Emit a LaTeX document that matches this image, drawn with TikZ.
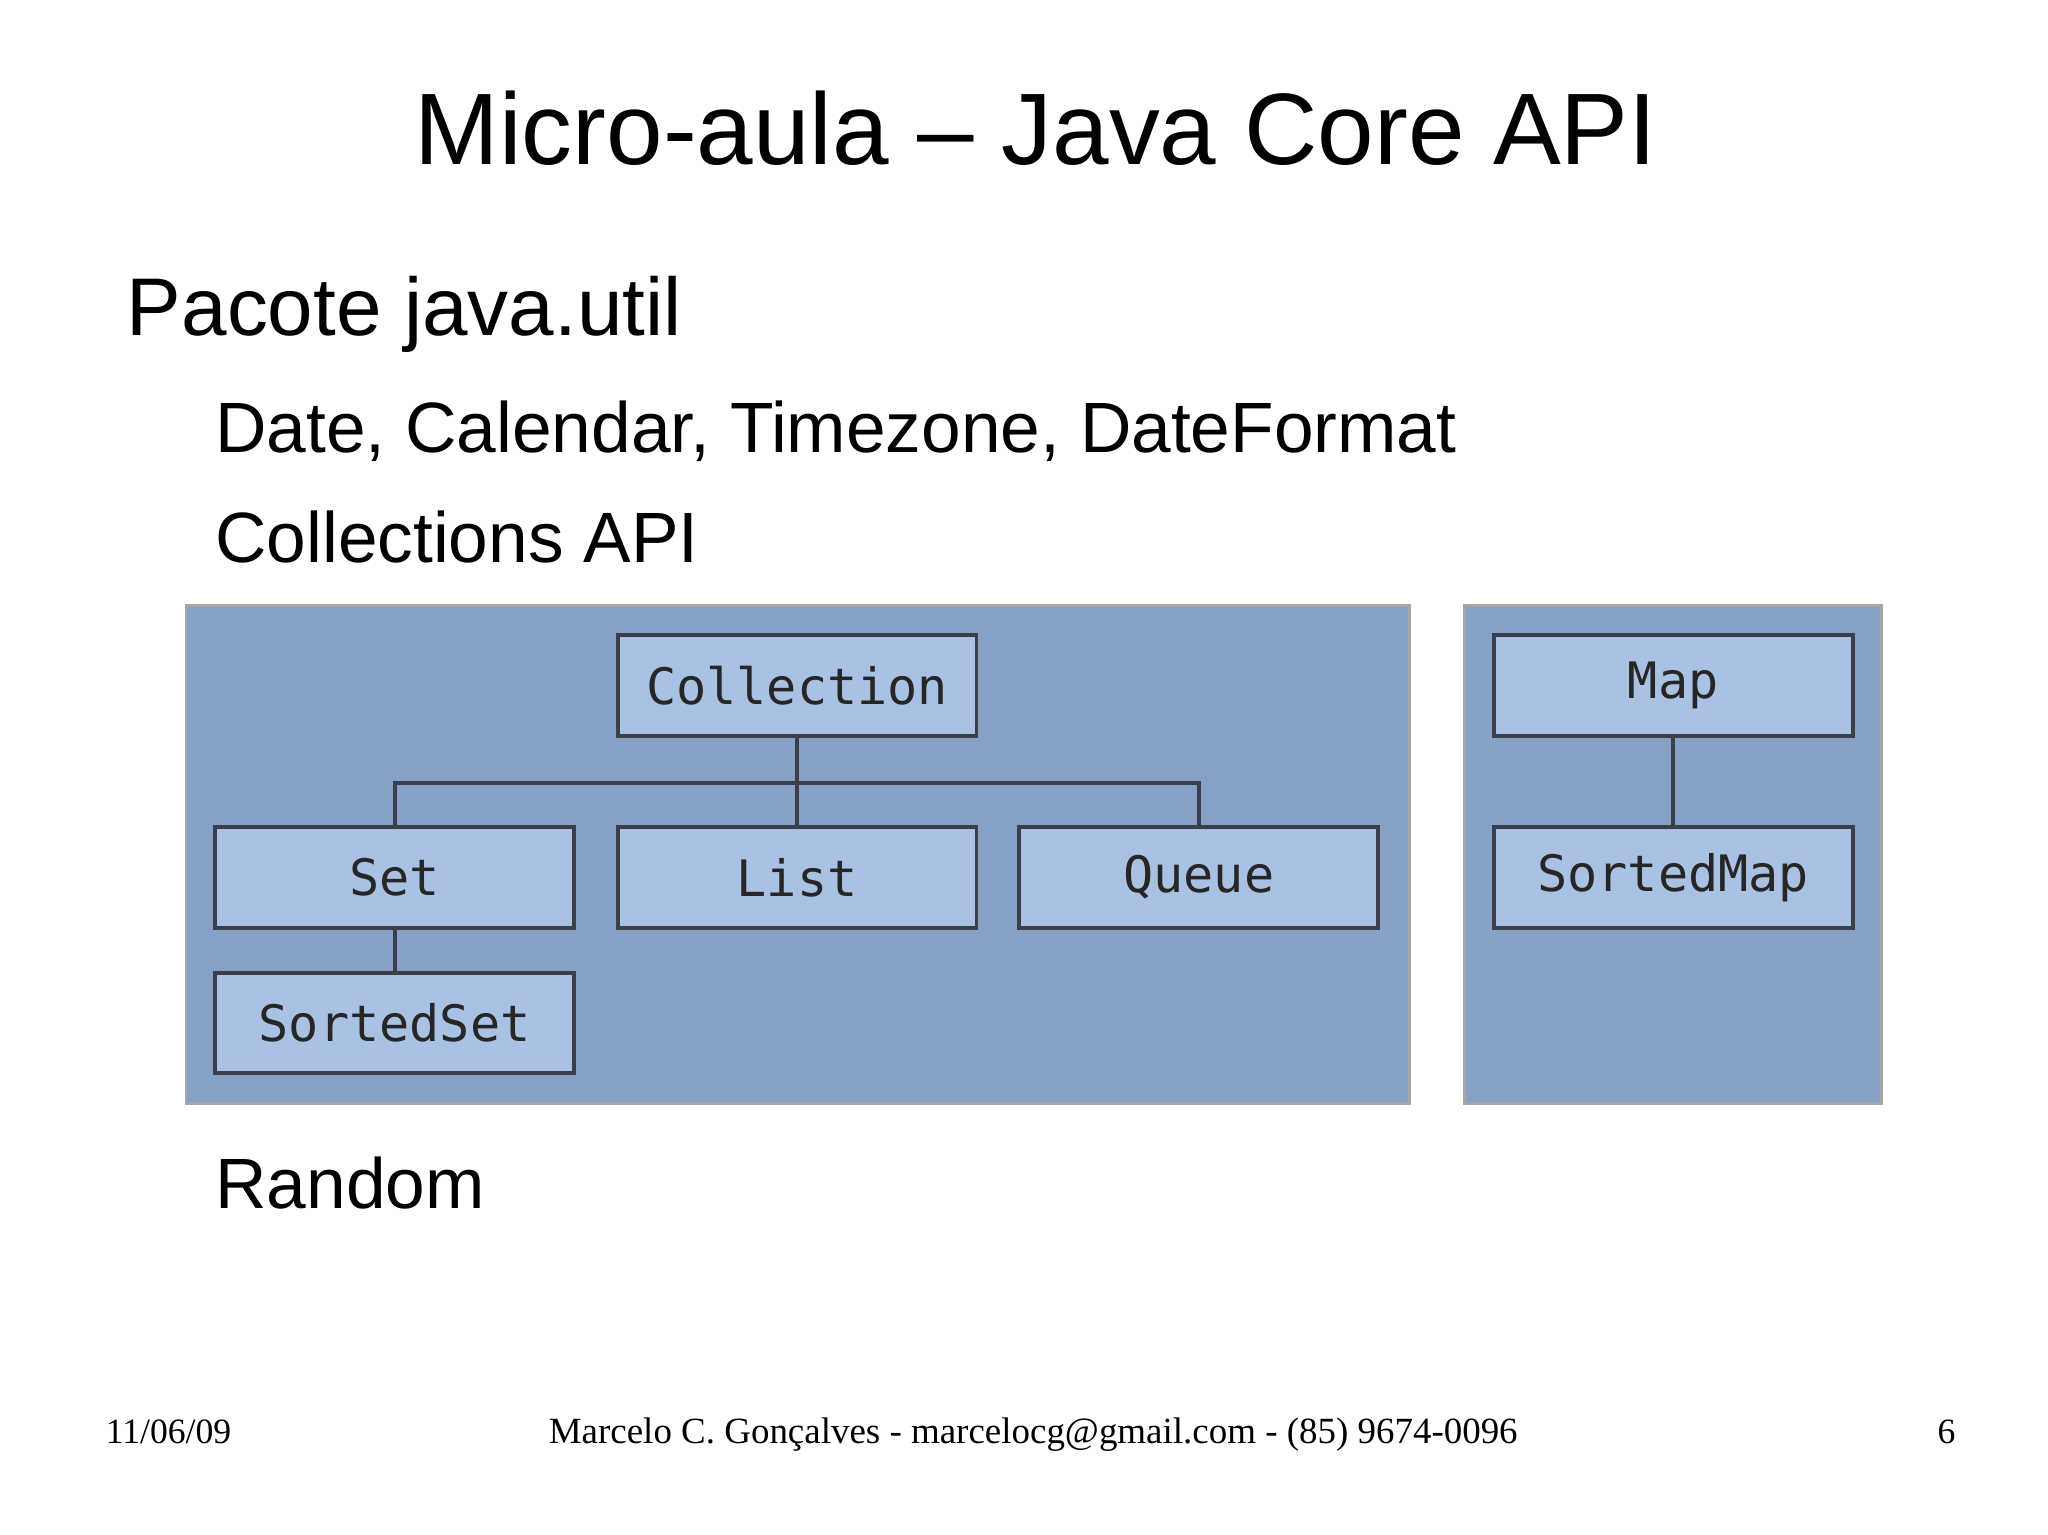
\documentclass[tikz,border=0pt]{standalone}
\usepackage{fontspec}
\setmainfont{Liberation Sans}
\newfontfamily\foot{Liberation Serif}
\newfontfamily\mono{DejaVu Sans Mono}
\definecolor{panel}{HTML}{87A0C8}
\definecolor{boxc}{HTML}{A9C1E2}
\definecolor{edge}{HTML}{3A3F4A}
\begin{document}
\begin{tikzpicture}[x=1pt,y=-1pt,
  pan/.style={fill=panel,draw=gray!70,line width=2pt},
  cls/.style={fill=boxc,draw=edge,line width=3pt,minimum width=272pt,minimum height=76pt,font=\mono\fontsize{38}{40}\selectfont,text=black!85,inner sep=0pt},
  ln/.style={draw=edge,line width=3pt},
  txt/.style={anchor=base west,inner sep=0pt}]
\useasboundingbox (0,0) rectangle (1552,1163);
\node[anchor=base,inner sep=0pt,font=\fontsize{77}{90}\selectfont] (title) at (785,125) {Micro-aula – Java Core API};
\node[txt,font=\fontsize{62}{70}\selectfont] (p) at (96,254) {Pacote java.util};
\node[txt,font=\fontsize{54}{60}\selectfont] (d) at (163,343) {Date, Calendar, Timezone, DateFormat};
\node[txt,font=\fontsize{54}{60}\selectfont] (c) at (163,426) {Collections API};
\node[txt,font=\fontsize{54}{60}\selectfont] (r) at (163,916) {Random};
\path[pan] (141,459) rectangle (1068,836);
\path[pan] (1110,459) rectangle (1426,836);
\node[cls] (col) at (604,519.5) {Collection};
\node[cls] (set) at (299,665) {Set};
\node[cls] (list) at (604,665) {List};
\node[cls] (queue) at (908.5,665) {Queue};
\node[cls] (sset) at (299,775) {SortedSet};
\node[cls] (map) at (1268,519.5) {Map};
\node[cls] (smap) at (1268,665) {SortedMap};
\coordinate (j) at (604,593);
\draw[ln] (col.south) -- (list.north);
\draw[ln] (set.north) |- (j) -| (queue.north);
\draw[ln] (set.south) -- (sset.north);
\draw[ln] (map.south) -- (smap.north);
\node[txt,font=\foot\fontsize{27}{30}\selectfont] (f1) at (80,1094) {11/06/09};
\node[anchor=base,inner sep=0pt,font=\foot\fontsize{28}{30}\selectfont] (f2) at (783,1094) {Marcelo C. Gonçalves - marcelocg@gmail.com - (85) 9674-0096};
\node[anchor=base,inner sep=0pt,font=\foot\fontsize{27}{30}\selectfont] (f3) at (1475,1094) {6};
\end{tikzpicture}
\end{document}
